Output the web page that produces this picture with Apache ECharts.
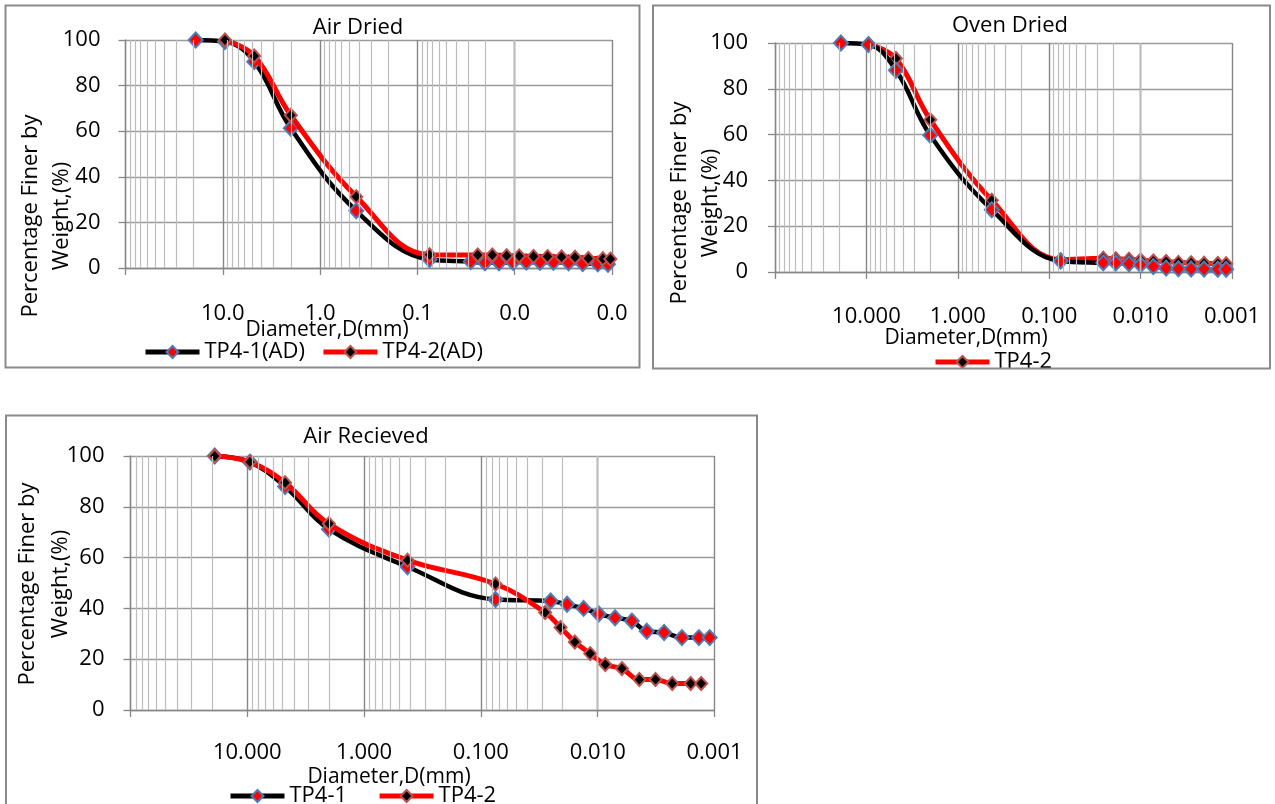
<!DOCTYPE html>
<html>
<head>
<meta charset="utf-8">
<title>Grain size distribution TP4</title>
<script src="https://cdn.jsdelivr.net/npm/echarts@6/dist/echarts.min.js"></script>
<style>
  html, body { margin: 0; padding: 0; background: #ffffff; }
  #chart { width: 1275px; height: 804px; }
</style>
</head>
<body>
<div id="chart"></div>
<script>
// ---- Sieve + hydrometer results (diameter in mm, percent finer by weight) ----

// Air dried
const adDiaTP41 = [19, 9.5, 4.75, 2.0, 0.425, 0.075, 0.0283, 0.0202, 0.0145, 0.0104, 0.0076, 0.0055, 0.0040, 0.0028, 0.0020, 0.0014, 0.0011];
const adPctTP41 = [100, 99.3, 90.5, 61.3, 25.1, 3.7, 2.8, 2.3, 2.3, 2.5, 2.6, 2.5, 2.5, 2.3, 2.0, 1.8, 1.6];
const adDiaTP42 = [9.5, 4.75, 2.0, 0.425, 0.075, 0.0240, 0.0170, 0.0121, 0.0090, 0.0064, 0.0046, 0.0033, 0.0024, 0.00175, 0.00124, 0.00104];
const adPctTP42 = [100, 93.0, 67.0, 31.3, 5.8, 5.7, 5.7, 5.4, 5.3, 5.1, 5.0, 4.8, 4.7, 4.2, 4.1, 3.9];

// Oven dried
const odDiaTP41 = [19, 9.5, 4.75, 2.0, 0.425, 0.075, 0.0256, 0.0187, 0.0134, 0.0100, 0.00725, 0.00526, 0.00386, 0.0028, 0.00202, 0.00143, 0.00116];
const odPctTP41 = [100, 99.3, 88.1, 59.7, 27.2, 4.8, 4.0, 3.9, 3.6, 3.2, 2.4, 1.7, 1.4, 1.3, 1.3, 1.2, 1.2];
const odDiaTP42 = [9.5, 4.75, 2.0, 0.425, 0.075, 0.0256, 0.0187, 0.0134, 0.0100, 0.00725, 0.00526, 0.00386, 0.0028, 0.00202, 0.00143, 0.00116];
const odPctTP42 = [99.6, 93.2, 66.5, 31.3, 5.4, 6.0, 5.8, 5.6, 5.3, 4.8, 4.6, 4.2, 4.0, 3.8, 3.7, 3.6];

// As received
const arDiaTP41 = [19, 9.5, 4.75, 2.0, 0.425, 0.075, 0.0253, 0.0183, 0.0132, 0.0098, 0.0071, 0.0051, 0.0038, 0.0027, 0.0019, 0.00136, 0.0011];
const arPctTP41 = [100, 97.6, 88.0, 71.2, 56.4, 43.5, 42.9, 41.6, 40.0, 37.8, 36.3, 35.0, 31.0, 30.5, 28.5, 28.5, 28.5];
const arDiaTP42 = [19, 9.5, 4.75, 2.0, 0.425, 0.075, 0.0282, 0.0208, 0.0157, 0.0116, 0.0086, 0.0062, 0.0044, 0.0032, 0.0023, 0.0016, 0.0013];
const arPctTP42 = [100, 97.6, 89.5, 73.3, 59.0, 49.6, 38.4, 32.5, 26.8, 22.2, 17.9, 16.3, 12.0, 12.0, 10.4, 10.4, 10.4];

// Decade tick labels (exponents 2 .. -3); the 100 mm decade carries no label
const tickExponents = [2, 1, 0, -1, -2, -3];
const adTickLabels = ['', '10.0', '1.0', '0.1', '0.0', '0.0'];
const odTickLabels = ['', '10.000', '1.000', '0.100', '0.010', '0.001'];
const arTickLabels = ['', '10.000', '1.000', '0.100', '0.010', '0.001'];

// Minor log grid lines: 2..9 times each decade
const decadeStarts = [10, 1, 0.1, 0.01, 0.001];
const minorMultipliers = [2, 3, 4, 5, 6, 7, 8, 9];

const FONT = '"Open Sans", Lato, sans-serif';
const AXIS_GREY = '#868686';
const MINOR_GREY = '#bdbdbd';

const styleTP41 = { line: '#000000', lineWidth: 4.5, fill: '#ff0000', border: '#4a7ebb', bw: 2, size: [14, 15] };
const styleTP42 = { line: '#ff0000', lineWidth: 5, fill: '#000000', border: '#c0504d', bw: 2, size: [12, 13] };

function pairs(dia, pct) {
  return dia.map((d, i) => [d, pct[i]]);
}

function gradSeries(name, dia, pct, idx, st, z) {
  return {
    type: 'line',
    name: name,
    xAxisIndex: idx,
    yAxisIndex: idx,
    data: pairs(dia, pct),
    smooth: 0.4,
    symbol: 'diamond',
    symbolSize: st.size,
    showAllSymbol: true,
    clip: false,
    lineStyle: { color: st.line, width: st.lineWidth },
    itemStyle: { color: st.fill, borderColor: st.border, borderWidth: st.bw },
    emphasis: { disabled: true },
    z: z,
    animation: false
  };
}

function minorGridSeries(idx) {
  const lines = [];
  decadeStarts.forEach(d => minorMultipliers.forEach(m => lines.push({ xAxis: m * d })));
  return {
    type: 'line',
    xAxisIndex: idx,
    yAxisIndex: idx,
    data: [],
    silent: true,
    z: 1,
    animation: false,
    markLine: {
      silent: true,
      animation: false,
      symbol: ['none', 'none'],
      label: { show: false },
      lineStyle: { color: MINOR_GREY, type: 'solid', width: 1.2 },
      emphasis: { disabled: true },
      data: lines
    }
  };
}

function logXAxis(idx, labels, margin) {
  return {
    type: 'log',
    gridIndex: idx,
    logBase: 10,
    min: 0.001,
    max: 100,
    splitNumber: 5,
    inverse: true,
    axisLine: { show: true, lineStyle: { color: AXIS_GREY, width: 1.3 } },
    axisTick: { show: true, length: 7, lineStyle: { color: AXIS_GREY, width: 1.3 } },
    axisLabel: {
      margin: margin,
      fontSize: 22,
      color: '#000',
      fontFamily: FONT,
      formatter: v => {
        const k = tickExponents.indexOf(Math.round(Math.log10(v)));
        return k >= 0 ? labels[k] : '';
      }
    },
    splitLine: { show: true, lineStyle: { color: AXIS_GREY, width: 1.4 } }
  };
}

function pctYAxis(idx, margin) {
  return {
    type: 'value',
    gridIndex: idx,
    min: 0,
    max: 100,
    interval: 20,
    axisLine: { show: true, lineStyle: { color: AXIS_GREY, width: 1.3 } },
    axisTick: { show: true, length: 7, lineStyle: { color: AXIS_GREY, width: 1.3 } },
    axisLabel: { margin: margin, fontSize: 22, color: '#000', fontFamily: FONT },
    splitLine: { show: true, lineStyle: { color: '#9a9a9a', width: 1.4 } }
  };
}

function label(text, x, y, size, rotate, lineHeight) {
  return {
    type: 'text',
    x: x,
    y: y,
    rotation: rotate ? Math.PI / 2 : 0,
    z: 50,
    style: {
      text: text,
      fill: '#000',
      font: size + 'px ' + FONT,
      align: 'center',
      verticalAlign: 'middle',
      textAlign: 'center',
      textVerticalAlign: 'middle',
      lineHeight: lineHeight || size * 1.2
    }
  };
}

function panel(x, y, w, h) {
  return {
    type: 'rect',
    z: 60,
    shape: { x: x, y: y, width: w, height: h },
    style: { fill: 'none', stroke: '#8a8a8a', lineWidth: 2 }
  };
}

const legendText = { fontSize: 22, color: '#000', fontFamily: FONT };
const legendLine = { width: 5 };

const option = {
  animation: false,
  backgroundColor: '#ffffff',
  grid: [
    { left: 125.5, top: 40, width: 486.5, height: 228 },
    { left: 775, top: 43, width: 457, height: 229 },
    { left: 130.5, top: 456, width: 584, height: 254 }
  ],
  xAxis: [
    logXAxis(0, adTickLabels, 35),
    logXAxis(1, odTickLabels, 34),
    logXAxis(2, arTickLabels, 32)
  ],
  yAxis: [
    pctYAxis(0, 25),
    pctYAxis(1, 27),
    pctYAxis(2, 26)
  ],
  legend: [
    {
      data: ['TP4-1(AD)', 'TP4-2(AD)'],
      left: 143, top: 341, padding: 0,
      itemWidth: 54, itemHeight: 15, itemGap: 16,
      lineStyle: legendLine,
      textStyle: legendText, selectedMode: false
    },
    {
      data: ['TP4-2'],
      left: 933, top: 351, padding: 0,
      itemWidth: 54, itemHeight: 15, itemGap: 16,
      lineStyle: legendLine,
      textStyle: legendText, selectedMode: false
    },
    {
      data: ['TP4-1', 'TP4-2'],
      left: 228, top: 785, padding: 0,
      itemWidth: 54, itemHeight: 15, itemGap: 30,
      lineStyle: legendLine,
      textStyle: legendText, selectedMode: false
    }
  ],
  series: [
    minorGridSeries(0),
    minorGridSeries(1),
    minorGridSeries(2),
    gradSeries('TP4-1(AD)', adDiaTP41, adPctTP41, 0, styleTP41, 3),
    gradSeries('TP4-2(AD)', adDiaTP42, adPctTP42, 0, styleTP42, 4),
    gradSeries('TP4-2', odDiaTP42, odPctTP42, 1, styleTP42, 3),
    gradSeries('TP4-1', odDiaTP41, odPctTP41, 1, styleTP41, 4),
    gradSeries('TP4-1', arDiaTP41, arPctTP41, 2, styleTP41, 3),
    gradSeries('TP4-2', arDiaTP42, arPctTP42, 2, styleTP42, 4)
  ],
  graphic: {
    elements: [
      // chart titles
      label('Air Dried', 358, 28, 22),
      label('Oven Dried', 1010, 26, 22),
      label('Air Recieved', 366, 437, 22),
      // vertical axis names
      label('Percentage Finer by\nWeight,(%)', 46, 216, 22, true, 31),
      label('Percentage Finer by\nWeight,(%)', 695, 203, 22, true, 31),
      label('Percentage Finer by\nWeight,(%)', 44, 584, 22, true, 33),
      // horizontal axis names
      label('Diameter,D(mm)', 327, 330, 21),
      label('Diameter,D(mm)', 966, 338, 21),
      label('Diameter,D(mm)', 389, 777, 21),
      // the oven dried legend runs under the lower frame edge
      { type: 'rect', z: 55, shape: { x: 645, y: 369, width: 630, height: 44 }, style: { fill: '#ffffff' } },
      // chart frames
      panel(5.5, 5.5, 634, 362),
      panel(653, 5.5, 617, 363),
      panel(6, 415.5, 751, 400)
    ]
  }
};

const chart = echarts.init(document.getElementById('chart'), null, { renderer: 'canvas' });
chart.setOption(option);
</script>
</body>
</html>
